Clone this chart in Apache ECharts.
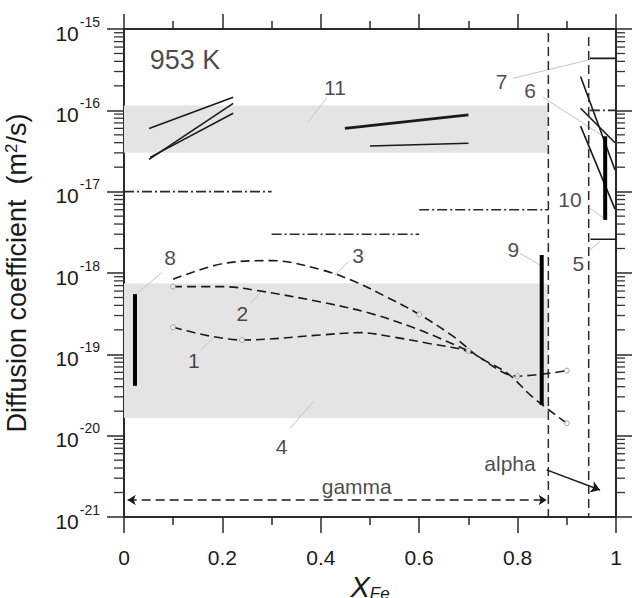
<!DOCTYPE html>
<html><head><meta charset="utf-8">
<script src="https://cdn.jsdelivr.net/npm/echarts@6/dist/echarts.min.js"></script>
<style>html,body{margin:0;padding:0;background:#fff}#c{width:632px;height:598px}</style>
</head><body><div id="c"></div>
<script>
// ---------- axes ----------
const xTickValues = [0, 0.2, 0.4, 0.6, 0.8, 1];
const yMinExp = -21, yMaxExp = -15;          // decades shown as 10^-21 ... 10^-15
const minorMantissas = [2, 3, 4, 5, 6, 7, 8, 9];

// ---------- shaded ranges (x0, yLow, x1, yHigh) ----------
const band11 = [0, 3.0e-17, 0.862, 1.15e-16];
const band4 = [0, 1.65e-20, 0.863, 7.45e-19];

// ---------- dashed curves ----------
const curve1 = [[0.1, 2.15e-19], [0.24, 1.5e-19], [0.4, 1.73e-19], [0.48, 1.85e-19], [0.55, 1.62e-19], [0.62, 1.36e-19], [0.7, 1.08e-19], [0.8, 5.4e-20], [0.9, 6.3e-20]];
const curve2 = [[0.1, 6.8e-19], [0.2, 6.8e-19], [0.27, 6.1e-19], [0.4, 4.4e-19], [0.5, 3.2e-19], [0.6, 2.0e-19], [0.7, 1.1e-19]];
const curve3 = [[0.1, 8.4e-19], [0.2, 1.3e-18], [0.3, 1.42e-18], [0.4, 1.1e-18], [0.47, 7.8e-19], [0.53, 5.2e-19], [0.6, 3.1e-19], [0.67, 1.65e-19], [0.72, 9.4e-20], [0.78, 5.8e-20], [0.83, 3.0e-20], [0.9, 1.42e-20]];
const openCircles = [[0.1, 2.15e-19], [0.24, 1.5e-19], [0.1, 6.8e-19], [0.6, 3.1e-19], [0.7, 1.1e-19], [0.8, 5.4e-20], [0.9, 6.3e-20], [0.9, 1.42e-20]];

// ---------- solid segments ----------
const seg11a = [[0.051, 6.0e-17], [0.222, 1.45e-16]];
const seg11b = [[0.051, 2.5e-17], [0.222, 1.22e-16]];
const seg11c = [[0.053, 2.64e-17], [0.222, 9.2e-17]];
const seg11d = [[0.449, 6.0e-17], [0.70, 8.8e-17]];
const seg11e = [[0.50, 3.64e-17], [0.70, 3.93e-17]];
const seg7 = [[0.947, 4.35e-16], [1.0, 4.35e-16]];
const seg5 = [[0.948, 2.6e-18], [1.0, 2.6e-18]];
const seg6a = [[0.928, 2.6e-16], [0.998, 1.85e-17]];
const seg6b = [[0.928, 1.06e-16], [0.998, 4.0e-17]];
const seg6c = [[0.928, 6.4e-17], [0.998, 6.1e-18]];

// ---------- thick vertical ranges ----------
const bar8 = [[0.0224, 5.5e-19], [0.0224, 4.1e-20]];
const bar9 = [[0.849, 1.66e-18], [0.849, 2.38e-20]];
const bar10 = [[0.978, 4.8e-17], [0.978, 4.5e-18]];

// ---------- dash-dot levels ----------
const dd1 = [[0, 1e-17], [0.3, 1e-17]];
const dd2 = [[0.3, 3e-18], [0.6, 3e-18]];
const dd3 = [[0.6, 6e-18], [0.862, 6e-18]];
const dd4 = [[0.947, 1e-16], [1.0, 1e-16]];

// ---------- phase boundaries ----------
const boundary1 = [[0.8625, 8.9e-16], [0.8625, 1e-21]];
const boundary2 = [[0.9445, 8.0e-16], [0.9445, 1e-21]];
const gammaArrow = [[0.0075, 1.62e-21], [0.859, 1.62e-21]];
const alphaArrow = [[0.859, 3.8e-21], [0.9675, 2.15e-21]];

// ---------- annotations ----------
const labelTexts = ['8', '1', '2', '3', '4', '11', '7', '6', '10', '9', '5'];
const labelPos = [[0.0935, 1.53e-18], [0.142, 8.5e-20], [0.2404, 3.19e-19], [0.476, 1.66e-18], [0.3205, 7.3e-21], [0.4289, 1.92e-16], [0.7677, 2.25e-16], [0.8252, 1.74e-16], [0.9065, 8.05e-18], [0.7913, 1.92e-18], [0.9234, 1.32e-18]];
const leaders = [
  [[0.0766, 1.01e-18], [0.027, 5.62e-19]],
  [[0.156, 1.13e-19], [0.183, 1.62e-19]],
  [[0.2575, 4.24e-19], [0.2778, 5.89e-19]],
  [[0.456, 1.38e-18], [0.4289, 9.44e-19]],
  [[0.3374, 1.23e-20], [0.3848, 2.62e-20]],
  [[0.412, 1.41e-16], [0.3746, 7.24e-17]],
  [[0.7913, 2.48e-16], [0.9437, 4.16e-16]],
  [[0.8522, 1.44e-16], [0.9756, 4.74e-17]],
  [[0.947, 6.24e-18], [0.9756, 4.7e-18]],
  [[0.805, 1.75e-18], [0.8455, 1.25e-18]],
  [[0.947, 1.92e-18], [0.9675, 2.43e-18]]
];
const tempText = '953 K', tempPos = [0.124, 4.16e-16];
const gammaText = 'gamma', gammaPos = [0.473, 2.35e-21];
const alphaText = 'alpha', alphaPos = [0.7846, 4.6e-21];

// ---------- build (y plotted on a log10 value axis) ----------
const FONT = '"Liberation Sans", Arial, sans-serif';
const INK = '#1a1a1a';
const lg = v => Math.log10(v);
const L = pts => pts.map(p => [p[0], lg(p[1])]);
const minorTickVals = [];
for (let e = yMinExp; e < yMaxExp; e++) for (const m of minorMantissas) minorTickVals.push([0, e + lg(m)]);

function lineSeries(data, opts) {
  return Object.assign({
    type: 'line', data: L(data), symbol: 'none', silent: true, animation: false,
    lineStyle: Object.assign({ color: INK, width: 1.6 }, opts.ls || {}), z: opts.z || 5
  }, opts.extra || {});
}
const dashDot = [10, 3, 2, 3];
const series = [];
series.push({
  type: 'line', data: [], silent: true, z: 1,
  markArea: { silent: true, itemStyle: { color: '#e4e4e4' }, data: [
    [{ coord: [band11[0], lg(band11[1])] }, { coord: [band11[2], lg(band11[3])] }],
    [{ coord: [band4[0], lg(band4[1])] }, { coord: [band4[2], lg(band4[3])] }]
  ] }
});
[curve1, curve2, curve3].forEach(c => series.push(lineSeries(c, { ls: { type: [9, 5], width: 1.6 }, extra: { smooth: 0.35 } })));
series.push({ type: 'scatter', data: L(openCircles), symbol: 'circle', symbolSize: 5, silent: true, z: 6,
  itemStyle: { color: '#ffffff', borderColor: '#8a8a8a', borderWidth: 1 } });
[seg11a, seg11b, seg11c, seg11e, seg7, seg5, seg6a, seg6b, seg6c].forEach(s => series.push(lineSeries(s, { ls: { width: 1.6 } })));
series.push(lineSeries(seg11d, { ls: { width: 2.8 } }));
[bar8, bar9, bar10].forEach(s => series.push(lineSeries(s, { ls: { width: 4, color: '#000' } })));
[dd1, dd2, dd3, dd4].forEach(s => series.push(lineSeries(s, { ls: { type: dashDot, width: 1.6, color: '#2a2a2a' } })));
[boundary1, boundary2].forEach(s => series.push(lineSeries(s, { ls: { type: [9, 5], width: 1.5, color: '#2a2a2a' } })));
leaders.forEach(s => series.push(lineSeries(s, { ls: { width: 1, color: '#c4c4c4' }, z: 4 })));
series.push({
  type: 'lines', coordinateSystem: 'cartesian2d', silent: true, z: 6,
  symbol: ['arrow', 'arrow'], symbolSize: 8,
  lineStyle: { color: INK, width: 1.5, type: [9, 5], opacity: 1 },
  data: [{ coords: L(gammaArrow) }]
});
series.push({
  type: 'lines', coordinateSystem: 'cartesian2d', silent: true, z: 6,
  symbol: ['none', 'arrow'], symbolSize: 9,
  lineStyle: { color: INK, width: 1.5, opacity: 1 },
  data: [{ coords: L(alphaArrow) }]
});
const textData = labelTexts.map((t, i) => ({ value: [labelPos[i][0], lg(labelPos[i][1])], name: t }));
series.push({ type: 'scatter', symbolSize: 0, silent: true, z: 7, data: textData,
  label: { show: true, position: 'inside', formatter: '{b}', color: INK, fontSize: 21, fontFamily: FONT } });
series.push({ type: 'scatter', symbolSize: 0, silent: true, z: 7,
  data: [{ value: [tempPos[0], lg(tempPos[1])], name: tempText }],
  label: { show: true, position: 'inside', formatter: '{b}', color: INK, fontSize: 27, fontFamily: FONT } });
series.push({ type: 'scatter', symbolSize: 0, silent: true, z: 7,
  data: [{ value: [gammaPos[0], lg(gammaPos[1])], name: gammaText }, { value: [alphaPos[0], lg(alphaPos[1])], name: alphaText }],
  label: { show: true, position: 'inside', formatter: '{b}', color: INK, fontSize: 21, fontFamily: FONT } });
series.push({
  type: 'custom', silent: true, z: 8, clip: false, data: minorTickVals,
  renderItem: function (params, api) {
    const v = api.value(1);
    const l = api.coord([0, v]);
    const r = api.coord([1, v]);
    return { type: 'group', children: [
      { type: 'line', shape: { x1: l[0] - 10, y1: l[1], x2: l[0], y2: l[1] }, style: { stroke: '#333', lineWidth: 1.3 } },
      { type: 'line', shape: { x1: r[0], y1: r[1], x2: r[0] + 9, y2: r[1] }, style: { stroke: '#333', lineWidth: 1.3 } }
    ] };
  }
});

const axisLineStyle = { onZero: false, lineStyle: { color: '#2a2a2a', width: 2 } };
const option = {
  animation: false,
  backgroundColor: '#ffffff',
  textStyle: { fontFamily: FONT },
  grid: { left: 124, right: 16, top: 29, bottom: 81, containLabel: false, outerBoundsMode: 'none' },
  xAxis: [{
    type: 'value', min: xTickValues[0], max: xTickValues[xTickValues.length - 1], interval: 0.2,
    position: 'bottom', axisLine: axisLineStyle,
    axisTick: { show: true, inside: false, length: 16, lineStyle: { color: '#2a2a2a', width: 1.5 } },
    minorTick: { show: true, splitNumber: 2, length: 8, lineStyle: { color: '#2a2a2a', width: 1.5 } },
    splitLine: { show: false },
    axisLabel: { margin: 30, fontSize: 21, color: INK, fontFamily: FONT, formatter: v => String(+v.toFixed(1)) },
    name: '{x|X}{s|Fe}', nameLocation: 'middle', nameGap: 44,
    nameTextStyle: { color: INK, rich: {
      x: { fontSize: 29, fontStyle: 'italic', fontFamily: FONT, color: INK },
      s: { fontSize: 17, fontStyle: 'italic', fontFamily: FONT, color: INK, verticalAlign: 'bottom', padding: [6, 0, 0, 0] }
    } }
  }, {
    type: 'value', min: 0, max: 1, interval: 0.2, position: 'top', axisLine: axisLineStyle,
    axisTick: { show: true, inside: false, length: 15, lineStyle: { color: '#2a2a2a', width: 1.5 } },
    minorTick: { show: true, splitNumber: 2, length: 8, lineStyle: { color: '#2a2a2a', width: 1.5 } },
    splitLine: { show: false }, axisLabel: { show: false }
  }],
  yAxis: [{
    type: 'value', min: yMinExp, max: yMaxExp, interval: 1,
    position: 'left', axisLine: axisLineStyle,
    axisTick: { show: true, inside: false, length: 17, lineStyle: { color: '#2a2a2a', width: 1.5 } },
    splitLine: { show: false },
    axisLabel: { margin: 24, color: INK, fontFamily: FONT,
      formatter: v => '{a|10}{b|' + Math.round(v) + '}',
      rich: {
        a: { fontSize: 21, fontFamily: FONT, color: INK, padding: [8, 0, 0, 0] },
        b: { fontSize: 14, fontFamily: FONT, color: INK, verticalAlign: 'top', padding: [0, 0, 0, 1] }
      } },
    name: 'Diffusion coefficient  (m{sup|2}/s)', nameLocation: 'middle', nameGap: 94,
    nameTextStyle: { fontSize: 27, color: INK, fontFamily: FONT, rich: {
      sup: { fontSize: 17, color: INK, fontFamily: FONT, verticalAlign: 'top' }
    } }
  }, {
    type: 'value', min: yMinExp, max: yMaxExp, interval: 1,
    position: 'right', axisLine: axisLineStyle,
    axisTick: { show: true, inside: false, length: 16, lineStyle: { color: '#2a2a2a', width: 1.5 } },
    splitLine: { show: false }, axisLabel: { show: false }
  }],
  series: series
};
const chart = echarts.init(document.getElementById('c'), null, { renderer: 'svg' });
chart.setOption(option);
</script></body></html>
